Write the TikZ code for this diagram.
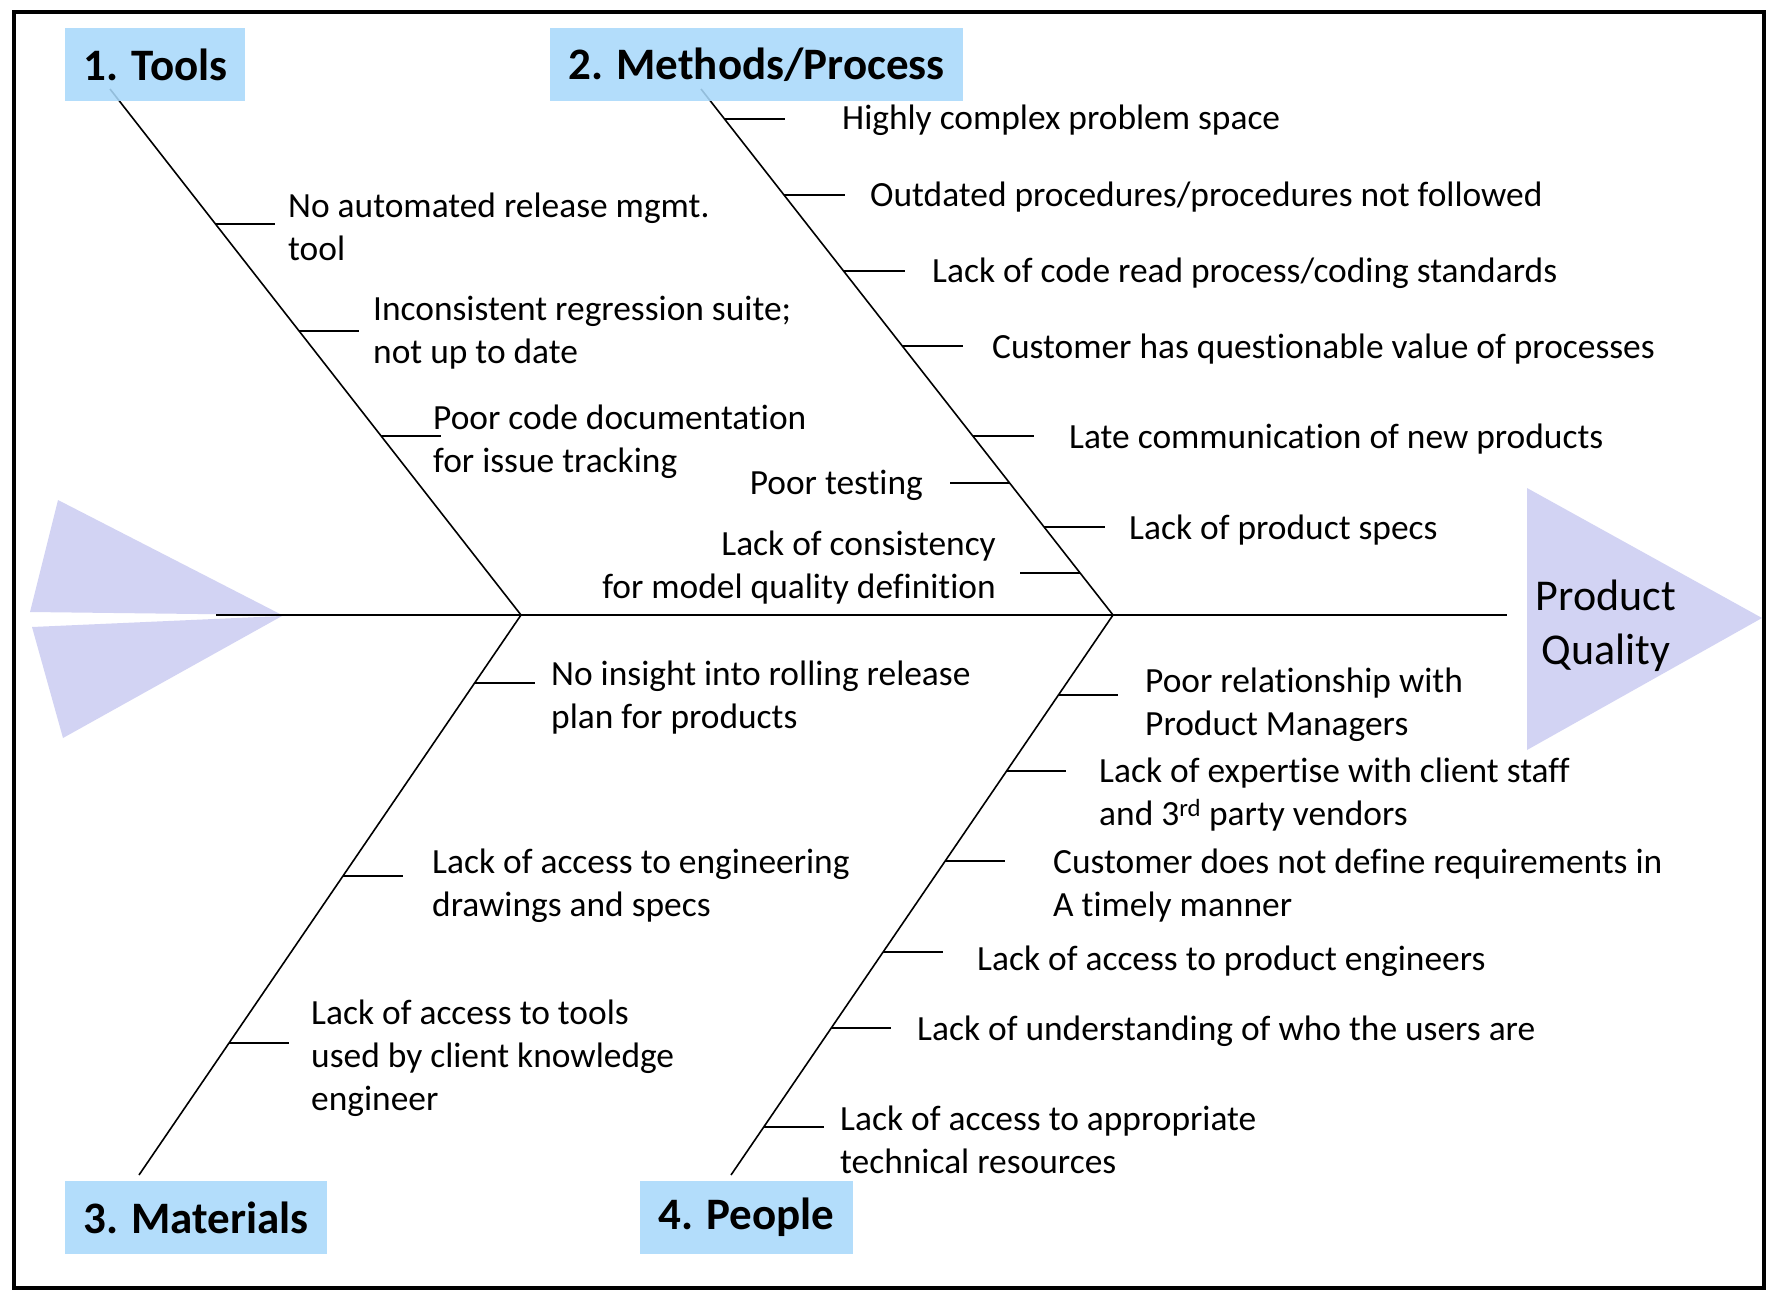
\documentclass[tikz,border=0pt]{standalone}
\usepackage{fontspec}
\setmainfont{Carlito}[Ligatures=NoCommon]
\usetikzlibrary{calc}
\definecolor{fishfill}{HTML}{D2D3F3}
\definecolor{catfill}{HTML}{A8D8FA}

\begin{document}
\begin{tikzpicture}[x=1pt, y=-1pt,
  catbox/.style={fill=catfill, fill opacity=0.88, text opacity=1, anchor=north west, inner xsep=18pt, inner ysep=0pt, minimum height=73pt, font=\fontsize{45}{54}\selectfont\bfseries},
  cause/.style={anchor=west, align=left, inner sep=0pt, yshift=-2pt, font=\fontsize{35.4}{43}\selectfont},
  causel/.style={cause, anchor=east, align=right},
  bone/.style={line width=1.6pt},
  rib/.style={line width=1.6pt}
]
\useasboundingbox (0,0) rectangle (1777,1297);
\draw[line width=4pt] (14,12) rectangle (1764,1288);

% tail and head
\fill[fishfill] (58,500) -- (30,612) -- (282,615) -- cycle;
\fill[fishfill] (32,627) -- (63,738) -- (282,616) -- cycle;
\fill[fishfill] (1527,488) -- (1762,618) -- (1527,750) -- cycle;
\node[font=\fontsize{44}{54}\selectfont, align=center] (quality) at (1606,626) {Product\\Quality};

% spine and bones
\coordinate (tail) at (216,615);
\coordinate (head) at (1507,615);
\coordinate (j1) at (521,615);
\coordinate (j2) at (1113,615);
\coordinate (top1) at (110,89);
\coordinate (top2) at (701,89);
\coordinate (bot3) at (139,1175);
\coordinate (bot4) at (731,1175);
\draw[bone] (tail) -- (head);
\draw[bone] (j1) -- (top1);
\draw[bone] (j2) -- (top2);
\draw[bone] (j1) -- (bot3);
\draw[bone] (j2) -- (bot4);

% category boxes
\node[catbox] (tools) at (65,28) {1. Tools};
\node[catbox] (methods) at (550,28) {2. Methods/Process};
\node[catbox] (materials) at (65,1181) {3. Materials};
\node[catbox] (people) at (640,1181) {4. People};

% 1. Tools
\coordinate (t1) at (215,224);
\coordinate (t2) at (299,331);
\coordinate (t3) at (381,436);
\foreach \r in {t1,t2,t3} \draw[rib] (\r) -- ++(60,0);
\node[cause] (tc1) at (288,225) {No automated release mgmt.\\tool};
\node[cause] (tc2) at (373,331) {Inconsistent regression suite;\\not up to date};
\node[cause] (tc3) at (433,440) {Poor code documentation\\for issue tracking};

% 2. Methods/Process
\coordinate (m1) at (724,119);
\coordinate (m2) at (784,195);
\coordinate (m3) at (844,271);
\coordinate (m4) at (902,346);
\coordinate (m5) at (973,436);
\coordinate (m6) at (1044,527);
\coordinate (m7) at (1010,483);
\coordinate (m8) at (1080,573);
\foreach \r in {m1,m2,m3,m4,m5,m6} \draw[rib] (\r) -- ++(61,0);
\foreach \r in {m7,m8} \draw[rib] (\r) -- ++(-60,0);
\node[cause] (mc1) at (842,118) {Highly complex problem space};
\node[cause] (mc2) at (870,195) {Outdated procedures/procedures not followed};
\node[cause] (mc3) at (932,271) {Lack of code read process/coding standards};
\node[cause] (mc4) at (992,347) {Customer has questionable value of processes};
\node[cause] (mc5) at (1069,437) {Late communication of new products};
\node[cause] (mc6) at (1129,528) {Lack of product specs};
\node[causel] (mc7) at (923,483) {Poor testing};
\node[causel] (mc8) at (996,566) {Lack of consistency\\for model quality definition};

% 3. Materials
\coordinate (a1) at (475,683);
\coordinate (a2) at (343,876);
\coordinate (a3) at (229,1043);
\foreach \r in {a1,a2,a3} \draw[rib] (\r) -- ++(60,0);
\node[cause] (ac1) at (551,696) {No insight into rolling release\\plan for products};
\node[cause] (ac2) at (432,884) {Lack of access to engineering\\drawings and specs};
\node[cause] (ac3) at (311,1056) {Lack of access to tools\\used by client knowledge\\engineer};

% 4. People
\coordinate (p1) at (1058,695);
\coordinate (p2) at (1006,771);
\coordinate (p3) at (945,861);
\coordinate (p4) at (883,952);
\coordinate (p5) at (831,1028);
\coordinate (p6) at (764,1127);
\foreach \r in {p1,p2,p3,p4,p5,p6} \draw[rib] (\r) -- ++(60,0);
\node[cause] (pc1) at (1145,703) {Poor relationship with\\Product Managers};
\node[cause] (pc2) at (1099,793) {Lack of expertise with client staff\\and 3\textsuperscript{rd} party vendors};
\node[cause] (pc3) at (1053,884) {Customer does not define requirements in\\A timely manner};
\node[cause] (pc4) at (977,959) {Lack of access to product engineers};
\node[cause] (pc5) at (917,1029) {Lack of understanding of who the users are};
\node[cause] (pc6) at (840,1138) {Lack of access to appropriate\\technical resources};
\end{tikzpicture}
\end{document}
